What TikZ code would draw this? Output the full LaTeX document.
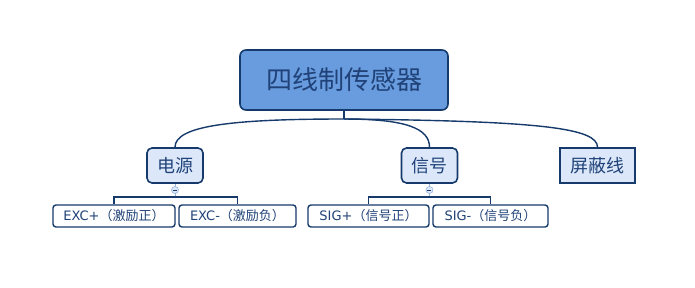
\documentclass[tikz,border=0pt]{standalone}
\usepackage{fontspec}
\setmainfont{DejaVu Sans}
\newfontfamily\cjk{Noto Sans CJK SC}
\usetikzlibrary{positioning}
\definecolor{mapnavy}{RGB}{22,58,108}
\definecolor{maproot}{RGB}{104,156,222}
\definecolor{mapmid}{RGB}{220,232,250}
\definecolor{maptext}{RGB}{32,66,120}
\definecolor{mapfold}{RGB}{150,180,225}
\tikzset{
  %% ---- boxes ----
  root/.style   = {rectangle, rounded corners=6pt,
                   draw=mapnavy, line width=1.6pt,
                   fill=maproot, minimum width=208pt, minimum height=60pt,
                   font=\cjk\fontsize{26}{26}\selectfont, text=maptext},
  branch/.style = {rectangle, rounded corners=5pt,
                   draw=mapnavy, line width=1.6pt,
                   fill=mapmid, minimum width=56pt, minimum height=35pt,
                   font=\cjk\fontsize{18}{18}\selectfont, text=maptext},
  plainbranch/.style = {branch, rounded corners=0pt, minimum width=75pt},
  leaf/.style   = {rectangle, rounded corners=3pt,
                   draw=mapnavy, line width=1.4pt,
                   fill=white, minimum width=#1, minimum height=22pt,
                   inner sep=0pt, font=\fontsize{13}{13}\selectfont,
                   text=maptext},
  leaf/.default = 120pt,
  fold/.style   = {circle, draw=mapfold, fill=mapmid, line width=0.6pt,
                   minimum size=7pt, inner sep=0pt},
  %% ---- lines ----
  link/.style   = {draw=mapnavy, line width=1.4pt},
  thinlink/.style = {draw=mapfold, line width=0.8pt},
}
\newcommand{\leaftext}[2]{#1{\cjk （#2）}}

\begin{document}
\begin{tikzpicture}[x=1pt, y=-1pt]
\useasboundingbox (0,0) rectangle (695,287);
\node[root]         (sensor) at (344,80)    {四线制传感器};
\node[branch]       (power)  at (175,165.5) {电源};
\node[branch]       (signal) at (429.5,165.5) {信号};
\node[plainbranch]  (shield) at (597.5,165.5) {屏蔽线};
\node[leaf=122pt]   (excp)   at (114,216)   {\leaftext{EXC+}{激励正}};
\node[leaf=117pt]   (excn)   at (237.5,216) {\leaftext{EXC-}{激励负}};
\node[leaf=121pt]   (sigp)   at (368.5,216) {\leaftext{SIG+}{信号正}};
\node[leaf=115pt]   (sign)   at (490.5,216) {\leaftext{SIG-}{信号负}};
\coordinate (hub) at (344,119);
\coordinate (pj)  at (175,197);
\coordinate (sj)  at (429.5,197);
\draw[link] (sensor.south) -- (hub);
\draw[link] (hub) .. controls (230,119) and (175,126) .. (power.north);
\draw[link] (hub) .. controls (405,119) and (429.5,128) .. (signal.north);
\draw[link] (hub) .. controls (540,121) and (597.5,128) .. (shield.north);
\draw[thinlink] (power.south) -- (pj);
\draw[thinlink] (signal.south) -- (sj);
\draw[link] (excp.north) |- (pj) -| (excn.north);
\draw[link] (sigp.north) |- (sj) -| (sign.north);
\node[fold] (fold1) at (175,190) {};
\node[fold] (fold2) at (429.5,190) {};
\draw[mapnavy, line width=0.5pt] (fold1.west) ++(1.5,0) -- ++(4,0);
\draw[mapnavy, line width=0.5pt] (fold2.west) ++(1.5,0) -- ++(4,0);
\end{tikzpicture}
\end{document}
